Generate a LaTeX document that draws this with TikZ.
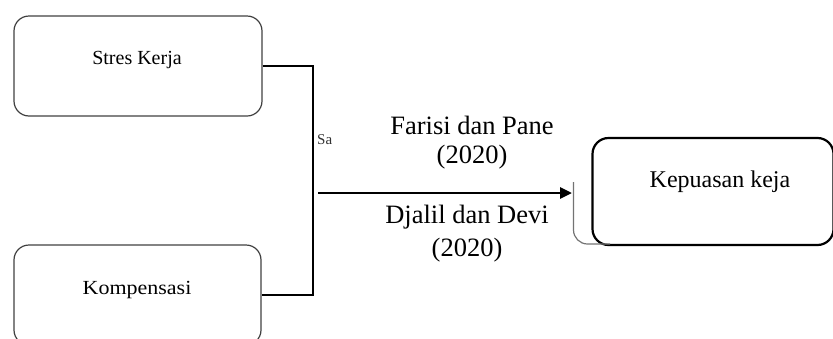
\documentclass[tikz,border=0pt]{standalone}
\usepackage{fontspec}
\setmainfont{Liberation Serif}
\usetikzlibrary{arrows.meta}
\begin{document}
\begin{tikzpicture}[x=1pt,y=-1pt,
  graybox/.style={draw=black!75,line width=1.2pt,rounded corners=15pt,inner sep=0pt},
  blackbox/.style={draw=black,line width=2.2pt,rounded corners=16pt,inner sep=0pt},
  conn/.style={draw=black,line width=2.8pt},
  txt/.style={font=\fontsize{26.5}{28}\selectfont,inner sep=0pt,align=center},
  kepfont/.style={font=\fontsize{24}{26}\selectfont,inner sep=0pt},
  boxtxt/.style={font=\fontsize{20}{22}\selectfont,inner sep=0pt}]
\useasboundingbox (0,0) rectangle (833,338);
\clip (0,0) rectangle (833,338);
% boxes
\node[graybox,minimum width=248pt,minimum height=100pt] (stres) at (138,66) {};
\node[boxtxt] (stresT) at (137,60) {Stres Kerja};
\node[graybox,minimum width=247pt,minimum height=100pt] (komp) at (137.5,295) {};
\node[boxtxt,xscale=1.1] (kompT) at (137,290) {Kompensasi};
\node[blackbox,minimum width=241pt,minimum height=107pt] (kep) at (713,191.5) {};
\node[kepfont] (kepT) at (720,182) {Kepuasan keja};
% connectors
\coordinate (j1) at (313,66);
\coordinate (j2) at (313,295);
\draw[conn] (stres.east) -- (j1) -- (j2) -- (komp.east);
\coordinate (a0) at (318,193);
\coordinate (a1) at (572,193);
\draw[conn,-{Triangle[length=12pt,width=11pt]}] (a0) -- (a1);
% gray shadow edge
\coordinate (s0) at (573.5,182);
\coordinate (s1) at (573.5,244);
\coordinate (s2) at (610,244);
\draw[black!55,line width=1.2pt,rounded corners=14pt] (s0) -- (s1) -- (s2);
% labels
\node[txt] (far) at (472,125) {Farisi dan Pane};
\node[txt] (far2) at (472,157) {(2020)};
\node[txt] (dja) at (467,217) {Djalil dan Devi};
\node[txt] (dja2) at (467,250) {(2020)};
\begin{scope}
\clip (316,128) rectangle (331,152);
\node[font=\fontsize{15}{16}\selectfont,text=black!80,inner sep=0pt,anchor=west] (sa) at (317,140) {Sa};
\end{scope}
\end{tikzpicture}
\end{document}
